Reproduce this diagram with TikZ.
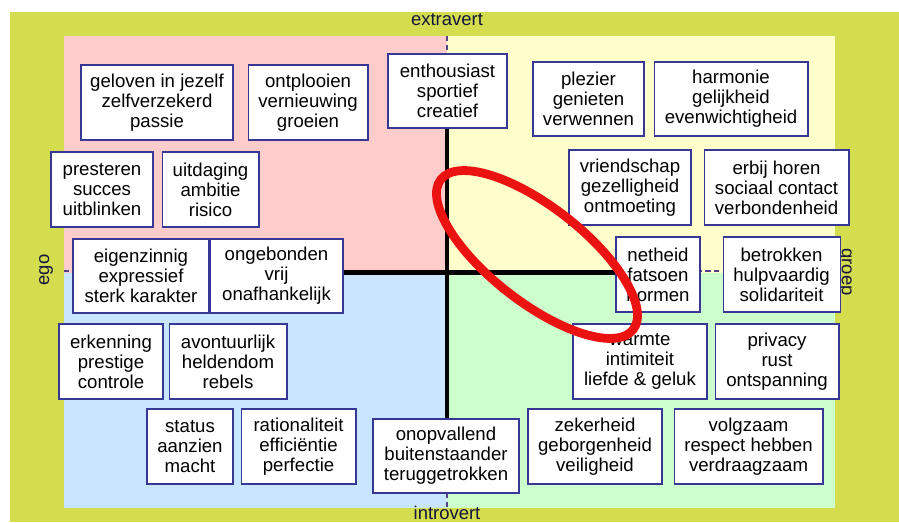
\documentclass[tikz,border=0pt]{standalone}
\usepackage{fontspec}
\setmainfont{Liberation Sans}
\usepackage{xcolor}
\usepackage{tikz}
\usetikzlibrary{positioning}
\definecolor{olivebg}{RGB}{212,221,78}
\definecolor{egoext}{RGB}{255,204,204}
\definecolor{groepext}{RGB}{255,255,204}
\definecolor{egointr}{RGB}{200,230,255}
\definecolor{groepintr}{RGB}{204,255,204}
\definecolor{boxline}{RGB}{55,55,150}
\definecolor{axisline}{RGB}{85,65,135}
\definecolor{labelink}{RGB}{20,20,60}
\definecolor{ringred}{RGB}{235,18,18}
\tikzset{value node/.style={rectangle,fill=white,draw=boxline,line width=.6pt,align=center,inner sep=1pt,
    font=\fontsize{10.6}{11.4}\selectfont,minimum height=1.5cm},
  axis label/.style={font=\fontsize{10.5}{12}\selectfont,text=labelink,inner sep=0pt},
  thin axis/.style={draw=axisline,line width=.8pt,dash pattern=on 3pt off 2pt},
  thick axis/.style={draw=black,line width=2.8pt},}

\begin{document}
\begin{tikzpicture}[x=0.02cm,y=-0.02cm]
    \useasboundingbox (0,0) rectangle (899,522);
    \fill[olivebg] (10,12) rectangle (899,522);
    \fill[egoext] (64,36) rectangle (447,272.5);
    \fill[groepext] (447,36) rectangle (835,272.5);
    \fill[egointr] (64,272.5) rectangle (447,508);
    \fill[groepintr] (447,272.5) rectangle (835,508);

    \coordinate (centre) at (447,272.5);
    \coordinate (boven) at (447,36);
    \coordinate (onder) at (447,508);
    \coordinate (links) at (64,271);
    \coordinate (rechts) at (835,271);
    \draw[thin axis] (boven) -- (onder);
    \draw[thin axis] (links) -- (rechts);

    \node[axis label] (extravert) at (447,20) {extravert};
    \node[axis label,anchor=base] (introvert) at (447,519) {introvert};
    \node[axis label,rotate=90] (ego) at (46,270) {ego};
    \node[axis label,rotate=-90] (groep) at (845,272) {groep};

    % ego - extravert
    \node[value node,minimum width=3.04cm] (geloven) at (157,102.5) {geloven in jezelf\\zelfverzekerd\\passie};
    \node[value node,minimum width=2.4cm] (ontplooien) [right = 0.28cm of geloven] {ontplooien\\vernieuwing\\groeien};
    \node[value node,minimum width=2.04cm] (presteren) at (102,189.5) {presteren\\succes\\uitblinken};
    \node[value node,minimum width=1.94cm] (uitdaging) [right = 0.16cm of presteren] {uitdaging\\ambitie\\risico};
    \node[value node,minimum width=2.72cm,minimum height=1.48cm] (eigenzinnig) at (141,276) {eigenzinnig\\expressief\\sterk karakter};
    \node[value node,minimum width=2.66cm,minimum height=1.48cm] (ongebonden) [right = 0cm of eigenzinnig] {ongebonden\\vrij\\onafhankelijk};

    % groep - extravert
    \node[value node,minimum width=2.38cm,minimum height=1.48cm] (enthousiast) at (447.5,91) {enthousiast\\sportief\\creatief};
    \node[value node,minimum width=2.22cm,minimum height=1.48cm] (plezier) at (588.5,99) {plezier\\genieten\\verwennen};
    \node[value node,minimum width=3.08cm,minimum height=1.48cm] (harmonie) [right = 0.18cm of plezier] {harmonie\\gelijkheid\\evenwichtigheid};
    \node[value node,minimum width=2.44cm] (vriendschap) at (630,187.5) {vriendschap\\gezelligheid\\ontmoeting};
    \node[value node,minimum width=2.9cm] (erbij) [right = 0.24cm of vriendschap] {erbij horen\\sociaal contact\\verbondenheid};
    \node[value node,minimum width=1.68cm] (netheid) at (658,274.5) {netheid\\fatsoen\\normen};
    \node[value node,minimum width=2.34cm] (betrokken) [right = 0.44cm of netheid] {betrokken\\hulpvaardig\\solidariteit};

    % ego - introvert
    \node[value node,minimum width=2.08cm] (erkenning) at (111,361.5) {erkenning\\prestige\\controle};
    \node[value node,minimum width=2.36cm] (avontuurlijk) [right = 0.1cm of erkenning] {avontuurlijk\\heldendom\\rebels};
    \node[value node,minimum width=1.72cm] (status) at (190,446.5) {status\\aanzien\\macht};
    \node[value node,minimum width=2.3cm] (rationaliteit) [right = 0.14cm of status] {rationaliteit\\efficiëntie\\perfectie};
    \node[value node,minimum width=2.92cm,minimum height=1.48cm] (onopvallend) at (446,456) {onopvallend\\buitenstaander\\teruggetrokken};

    % groep - introvert
    \node[value node,minimum width=2.68cm] (warmte) at (640,361.5) {warmte\\intimiteit\\liefde \& geluk};
    \node[value node,minimum width=2.48cm] (privacy) [right = 0.14cm of warmte] {privacy\\rust\\ontspanning};
    \node[value node,minimum width=2.68cm] (zekerheid) at (595,446.5) {zekerheid\\geborgenheid\\veiligheid};
    \node[value node,minimum width=2.98cm] (volgzaam) [right = 0.22cm of zekerheid] {volgzaam\\respect hebben\\verdraagzaam};

    \draw[thick axis] (centre |- enthousiast.south) -- (centre |- onopvallend.north);
    \draw[thick axis] (ongebonden.east |- centre) -- (netheid.west |- centre);

    \draw[ringred,line width=5pt,rotate around={-38:(537,254.5)}] (537,254.5) ellipse [x radius=122,y radius=47.5];
\end{tikzpicture}
\end{document}
